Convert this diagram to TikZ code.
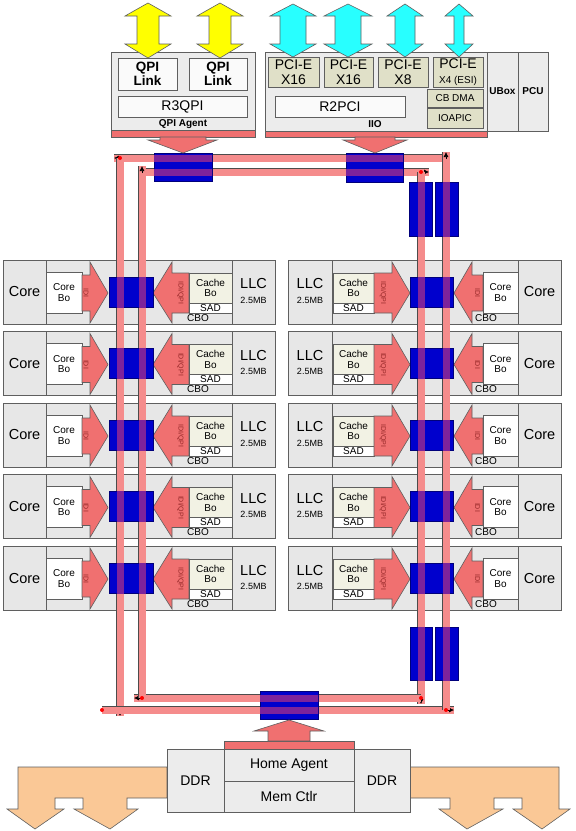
\documentclass[tikz,border=0pt]{standalone}
\usepackage{fontspec}
\setmainfont{Liberation Sans}
\usetikzlibrary{positioning,arrows.meta,calc}

\definecolor{tilegray}{RGB}{231,231,231}
\definecolor{boxgray}{RGB}{236,236,236}
\definecolor{edgegray}{RGB}{95,95,95}
\definecolor{pcibeige}{RGB}{224,224,200}
\definecolor{cachebeige}{RGB}{242,242,228}
\definecolor{ringpink}{RGB}{245,140,140}
\definecolor{arrowpink}{RGB}{240,112,112}
\definecolor{stopblue}{RGB}{0,0,205}
\definecolor{stoppurple}{RGB}{125,35,155}
\definecolor{idired}{RGB}{150,40,40}
\definecolor{qpiyellow}{RGB}{255,255,0}
\definecolor{pcicyan}{RGB}{40,255,255}
\definecolor{ddrorange}{RGB}{250,200,150}

\tikzset{
  blk/.style={draw=edgegray, line width=0.8pt, anchor=north west, inner sep=0pt, outer sep=0pt, align=center},
  agentbox/.style={blk, fill=boxgray},
  paler/.style={blk, fill=white!96!gray},
  pcibox/.style={blk, fill=pcibeige},
  cachebox/.style={blk, fill=cachebeige},
  whitebox/.style={blk, fill=white},
  tilebox/.style={draw=edgegray, line width=0.8pt, fill=tilegray},
  tileline/.style={draw=edgegray, line width=0.8pt},
  ftbig/.style={font=\fontsize{14.5}{15}\selectfont},
  ftmid/.style={font=\fontsize{14}{14.5}\selectfont},
  ftbold/.style={font=\fontsize{13.5}{14}\selectfont\bfseries},
  ftsml/.style={font=\fontsize{10}{10.5}\selectfont},
  fttny/.style={font=\fontsize{9}{9}\selectfont},
  fttnyb/.style={font=\fontsize{10}{10}\selectfont\bfseries},
  ftidi/.style={font=\fontsize{7}{7}\selectfont, text=idired},
  blockpink/.style={fill=arrowpink, draw=edgegray, line width=0.6pt},
  ringbar/.style={draw=black!70, line width=0.6pt, double=ringpink, double distance=7pt},
  ringglow/.style={draw=stoppurple, line width=7pt},
  ringtip/.style={-{Latex[length=5pt,width=5pt]}, line width=0.6pt, black},
  ringstop/.style={fill=stopblue, draw=stopblue!60!black, line width=0.6pt},
  yarrow/.style={fill=qpiyellow, draw=edgegray, line width=0.6pt},
  carrow/.style={fill=pcicyan, draw=edgegray, line width=0.6pt},
  ddrarrow/.style={fill=ddrorange, draw=edgegray, line width=0.6pt},
}

\begin{document}
\begin{tikzpicture}[x=1pt, y=-1pt]
    \def\rowtop{260}
    \def\rowgap{71.5}
    \def\ringsegs{446/158/114/158, 120/158/120/716, 102/710/454/710, 446/710/446/152,
                  142/172/429/172, 421/172/421/704, 421/698/134/698, 142/698/142/166}
    \def\stopat#1#2#3#4{
      \draw[ringstop] (#1,#2) rectangle (#3,#4);
      \begin{scope}
        \clip (#1,#2) rectangle (#3,#4);
        \foreach \ax/\ay/\bx/\by in \ringsegs
          \draw[ringglow] (\ax,\ay) -- (\bx,\by);
      \end{scope}
    }

    \useasboundingbox (0,0) rectangle (576,831);
    \fill[white] (0,0) rectangle (576,831);

    % core tiles
    \foreach \i in {0,...,4} {
      \pgfmathsetmacro\ty{\rowtop+\rowgap*\i}
      \begin{scope}[shift={(0,\ty)}]
        \draw[tilebox] (3,0) rectangle (275,64);
        \draw[tileline] (46,0) -- (46,64) (232,0) -- (232,64);
        \node[ftbig] (lcore\i) at (24.5,32) {Core};
        \node[whitebox, ftsml, minimum width=36pt, minimum height=41pt] (lcorebo\i) at (46,12) {Core\\Bo};
        \draw[blockpink] (82,15) -- (90,15) -- (90,2) -- (108,33) -- (90,63) -- (90,51) -- (82,51) -- cycle;
        \node[ftidi, rotate=-90] (lidi\i) at (86,33) {IDI};
        \draw[blockpink] (189,13) -- (172,13) -- (172,2) -- (153,33) -- (172,63) -- (172,53) -- (189,53) -- cycle;
        \node[ftidi, rotate=-90] (lqpi\i) at (180.5,33) {IDI/QPI};
        \node[cachebox, ftsml, minimum width=43pt, minimum height=30pt] (lcache\i) at (189,13) {Cache\\Bo};
        \node[whitebox, ftsml, minimum width=43pt, minimum height=10pt] (lsad\i) at (189,43) {SAD};
        \node[ftsml] (lcbo\i) at (198,58) {CBO};
        \node[ftbig] (lllc\i) at (253.5,24) {LLC};
        \node[fttny] (lmb\i) at (253.5,40) {2.5MB};

        \draw[tilebox] (288,0) rectangle (561,64);
        \draw[tileline] (332,0) -- (332,64) (518,0) -- (518,64);
        \node[ftbig] (rllc\i) at (310,24) {LLC};
        \node[fttny] (rmb\i) at (310,40) {2.5MB};
        \node[cachebox, ftsml, minimum width=41pt, minimum height=30pt] (rcache\i) at (333,13) {Cache\\Bo};
        \node[whitebox, ftsml, minimum width=41pt, minimum height=10pt] (rsad\i) at (333,43) {SAD};
        \draw[blockpink] (374,13) -- (392,13) -- (392,2) -- (410,33) -- (392,63) -- (392,53) -- (374,53) -- cycle;
        \node[ftidi, rotate=-90] (rqpi\i) at (383,33) {IDI/QPI};
        \draw[blockpink] (483,15) -- (472,15) -- (472,2) -- (454,33) -- (472,63) -- (472,51) -- (483,51) -- cycle;
        \node[ftidi, rotate=-90] (ridi\i) at (477.5,33) {IDI};
        \node[whitebox, ftsml, minimum width=35pt, minimum height=41pt] (rcorebo\i) at (483,12) {Core\\Bo};
        \node[ftsml] (rcbo\i) at (486,58) {CBO};
        \node[ftbig] (rcore\i) at (539.5,32) {Core};
      \end{scope}
    }

    % ring
    \foreach \ax/\ay/\bx/\by in \ringsegs {
      \draw[ringbar] (\ax,\ay) -- (\bx,\by);
      \draw[ringtip] ($(\bx,\by)!7pt!(\ax,\ay)$) -- (\bx,\by);
      \fill[red] (\ax,\ay) circle (2pt);
    }

    % ring stops
    \foreach \i in {0,...,4} {
      \pgfmathsetmacro\ty{\rowtop+\rowgap*\i}
      \pgfmathsetmacro\sa{\ty+17}
      \pgfmathsetmacro\sb{\ty+47}
      \stopat{109}{\sa}{153}{\sb}
      \stopat{410}{\sa}{453}{\sb}
    }
    \stopat{154}{153}{212}{181}
    \stopat{346}{153}{403}{182}
    \stopat{409}{182}{432}{236}
    \stopat{435}{182}{458}{236}
    \stopat{410}{627}{432}{680}
    \stopat{435}{627}{458}{680}
    \stopat{260}{691}{318}{719}

    % qpi agent
    \node[agentbox, minimum width=144pt, minimum height=78pt] (qpiagent) at (111,52) {};
    \draw[blockpink] (111,130) rectangle (255,137);
    \node[paler, ftbold, minimum width=59pt, minimum height=32pt] (qpilink1) at (118,58) {QPI\\Link};
    \node[paler, ftbold, minimum width=58pt, minimum height=32pt] (qpilink2) at (189,58) {QPI\\Link};
    \node[paler, ftmid, minimum width=129pt, minimum height=21pt] (r3qpi) at (118,96) {R3QPI};
    \node[fttnyb] (qpiname) at (183,124) {QPI Agent};
    \draw[blockpink] (160,137) -- (160,140) -- (148,140) -- (183,153) -- (217,140) -- (206,140) -- (206,137) -- cycle;

    % iio
    \node[agentbox, minimum width=222pt, minimum height=79pt] (iio) at (265,52) {};
    \draw[blockpink] (265,131) rectangle (487,137);
    \foreach \px/\w/\lane [count=\k] in {268/51/X16, 324/49/X16, 378/50/X8}
      \node[pcibox, ftmid, minimum width=\w pt, minimum height=30pt] (pcie\k) at (\px,57) {PCI-E\\\lane};
    \node[pcibox, ftmid, minimum width=50pt, minimum height=30pt] (pcie4) at (433,57) {PCI-E\\{\fontsize{10}{10}\selectfont X4 (ESI)}};
    \node[pcibox, ftsml, minimum width=56pt, minimum height=18pt] (cbdma) at (427,89) {CB DMA};
    \node[pcibox, ftsml, minimum width=56pt, minimum height=20pt] (ioapic) at (427,108) {IOAPIC};
    \node[paler, ftmid, minimum width=130pt, minimum height=21pt] (r2pci) at (275,96) {R2PCI};
    \node[fttnyb] (iioname) at (375,124) {IIO};
    \node[agentbox, fttnyb, minimum width=31pt, minimum height=79pt] (ubox) at (487,52) {UBox};
    \node[agentbox, fttnyb, minimum width=30pt, minimum height=79pt] (pcu) at (518,52) {PCU};
    \draw[blockpink] (355,137) -- (355,140) -- (343,140) -- (375,153) -- (407,140) -- (395,140) -- (395,137) -- cycle;

    % links
    \foreach \cx in {148,220}
      \draw[yarrow] (\cx,3) -- (\cx+23,16) -- (\cx+11,16) -- (\cx+11,44) -- (\cx+23,44) -- (\cx,58)
        -- (\cx-23,44) -- (\cx-11,44) -- (\cx-11,16) -- (\cx-23,16) -- cycle;
    \foreach \cx/\sw/\hw in {293/13/23, 348/13/24, 405/10/18, 459/5/14}
      \draw[carrow] (\cx,4) -- (\cx+\hw,16) -- (\cx+\sw,16) -- (\cx+\sw,44) -- (\cx+\hw,44) -- (\cx,57)
        -- (\cx-\hw,44) -- (\cx-\sw,44) -- (\cx-\sw,16) -- (\cx-\hw,16) -- cycle;

    % home agent
    \foreach \m in {1,-1} {
      \begin{scope}[xshift={(1-\m)*288.5pt}, xscale=\m]
        \draw[ddrarrow] (167,767) -- (18,767) -- (18,809) -- (7,809) -- (35,829) -- (64,809) -- (55,809)
          -- (55,798) -- (83,798) -- (83,809) -- (74,809) -- (110,829) -- (138,809) -- (127,809)
          -- (127,798) -- (167,798) -- cycle;
      \end{scope}
    }
    \draw[blockpink] (224,741) rectangle (354,749);
    \draw[blockpink] (268,741) -- (268,731) -- (254,731) -- (289,720) -- (324,731) -- (310,731) -- (310,741) -- cycle;
    \node[agentbox, ftmid, minimum width=57pt, minimum height=63pt] (ddrl) at (167,749) {DDR};
    \node[agentbox, ftmid, minimum width=130pt, minimum height=32pt] (home) at (224,749) {Home Agent};
    \node[agentbox, ftmid, minimum width=130pt, minimum height=31pt] (memctl) at (224,781) {Mem Ctlr};
    \node[agentbox, ftmid, minimum width=56pt, minimum height=63pt] (ddrr) at (354,749) {DDR};

\end{tikzpicture}
\end{document}
